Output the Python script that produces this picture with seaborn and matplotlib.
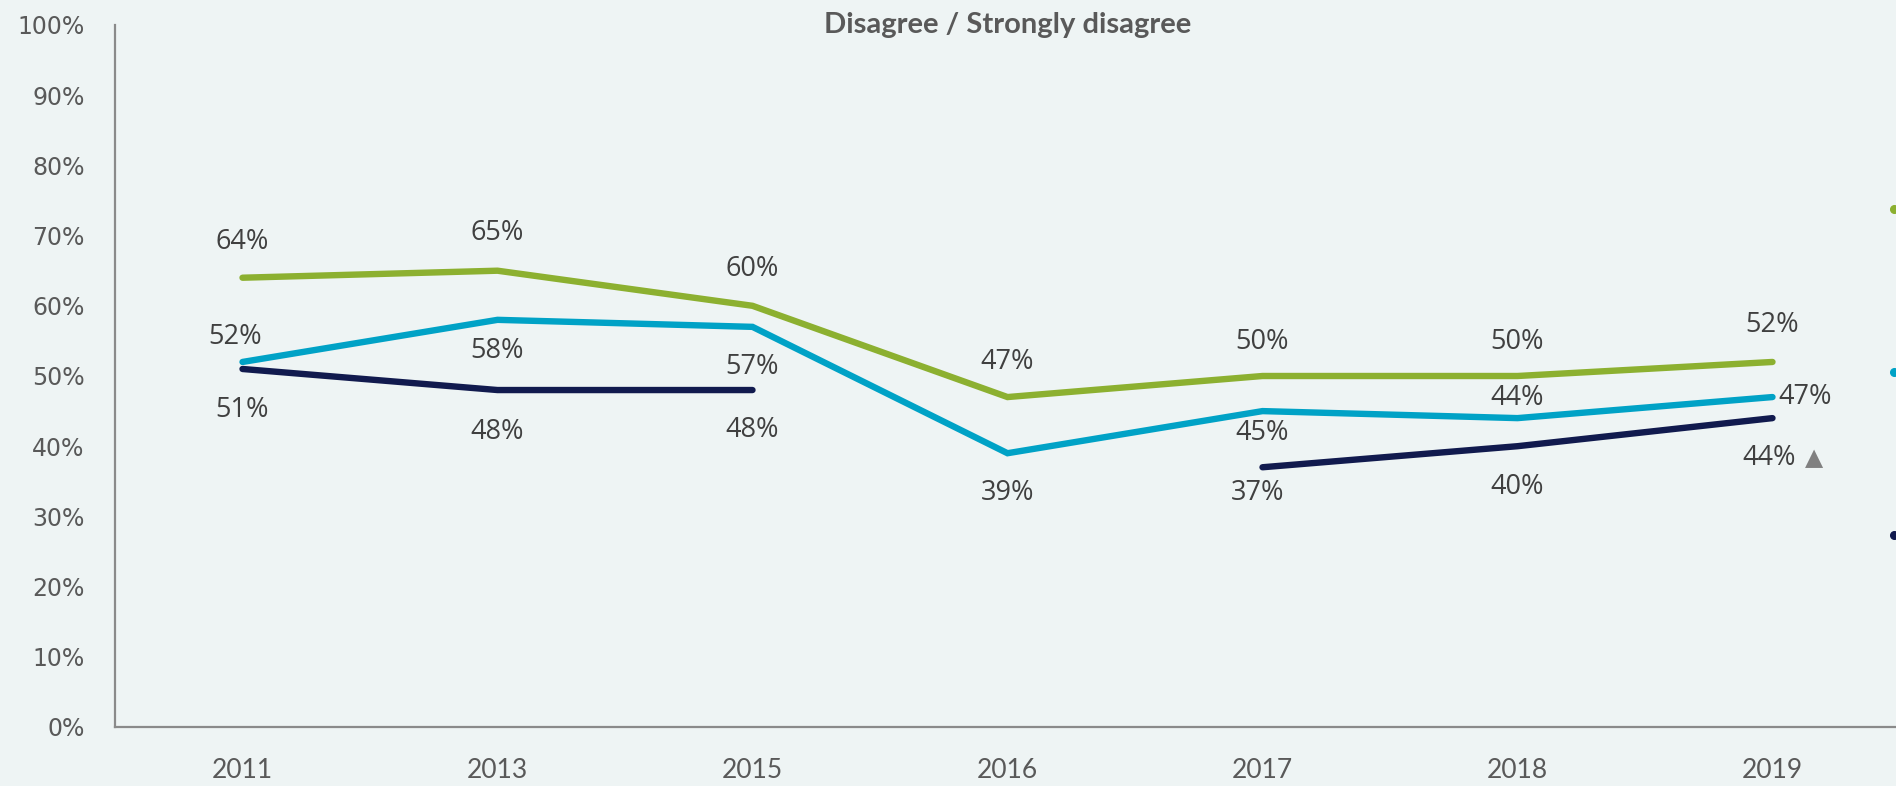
import matplotlib
matplotlib.use("Agg")
import matplotlib.pyplot as plt
from matplotlib.lines import Line2D
import numpy as np
import pandas as pd
import seaborn as sns

# ---- data -------------------------------------------------------------
years = ["2011", "2013", "2015", "2016", "2017", "2018", "2019"]
series_names = ["Series A", "Series B", "Series C"]
series_a = [64, 65, 60, 47, 50, 50, 52]
series_b = [52, 58, 57, 39, 45, 44, 47]
series_c = [51, 48, 48, np.nan, 37, 40, 44]
y_ticks = [0, 10, 20, 30, 40, 50, 60, 70, 80, 90, 100]
title_text = "Disagree / Strongly disagree"

# ---- style ------------------------------------------------------------
bg = "#EEF4F4"
colors = ["#8CB030", "#00A2C6", "#111A4E"]
label_color = "#404040"
axis_text = "#595959"

# label offsets (points) relative to each point: (dx, dy)
px = 0.72
offsets = [
    [(0, 36), (0, 38), (0, 37), (0, 35), (0, 34), (0, 34), (0, 37)],
    [(-7, 25), (0, -31), (0, -40), (0, -40), (0, -22), (0, 20), (32, 0)],
    [(0, -41), (0, -42), (0, -40), None, (-5, -26), (0, -41), (-3, -40)],
]

sns.set_theme(style="white")
plt.rcParams["font.family"] = ["DejaVu Sans"]

# long-form table; a segment id keeps the gap in series C unbridged
rows = []
for name, vals in zip(series_names, [series_a, series_b, series_c]):
    seg = 0
    for yr, v in zip(years, vals):
        if np.isnan(v):
            seg += 1
            continue
        rows.append({"year": yr, "value": v, "series": name, "segment": f"{name}-{seg}"})
df = pd.DataFrame(rows)
df["year"] = pd.Categorical(df["year"], categories=years, ordered=True)

W, H = 1896, 786
fig = plt.figure(figsize=(W / 100, H / 100), dpi=100, facecolor=bg)
ax = fig.add_axes([115 / W, 1 - 727 / H, (1900 - 115) / W, (727 - 25) / H])
ax.set_facecolor(bg)

sns.lineplot(
    data=df, x="year", y="value", hue="series", units="segment",
    estimator=None, palette=dict(zip(series_names, colors)),
    hue_order=series_names, linewidth=4.6, legend=False, ax=ax,
    solid_capstyle="round", solid_joinstyle="miter",
)

ax.set_xlim(-0.5, len(years) - 0.5)
ax.set_ylim(0, 100)
ax.set_xticks(range(len(years)))
ax.set_xticklabels(years, fontfamily="Lato", fontsize=19, color=axis_text)
ax.set_yticks(y_ticks)
ax.set_yticklabels([f"{t}%" for t in y_ticks], fontfamily="DejaVu Sans",
                   fontsize=17, color=axis_text)
ax.tick_params(axis="x", length=0, pad=22)
ax.tick_params(axis="y", length=0, pad=22)
ax.set_xlabel("")
ax.set_ylabel("")
ax.grid(False)
for side in ["top", "right"]:
    ax.spines[side].set_visible(False)
for side in ["left", "bottom"]:
    ax.spines[side].set_color("#8A8A8A")
    ax.spines[side].set_linewidth(1.6)

# data labels
for vals, offs in zip([series_a, series_b, series_c], offsets):
    for i, (v, off) in enumerate(zip(vals, offs)):
        if off is None or np.isnan(v):
            continue
        dx, dy = off
        ha = "left" if dx > 20 else "center"
        ax.annotate(f"{v:.0f}%", xy=(i, v), xytext=(dx * px if ha == "center" else 6 * px, dy * px),
                    textcoords="offset points", ha=ha, va="center",
                    fontfamily="Open Sans", fontsize=19.5, color=label_color)

# significance marker beside the last value of series C
ax.annotate("▲", xy=(len(years) - 1, series_c[-1]), xytext=(41 * px, -40 * px),
            textcoords="offset points", ha="center", va="center",
            fontfamily="DejaVu Sans", fontsize=17, color="#808080")

ax.text(0.5, 1.0, title_text, transform=ax.transAxes, ha="center", va="center",
        fontfamily="Lato", fontweight="bold", fontsize=21, color=axis_text)

# legend markers sitting on the right edge of the canvas
handles = [Line2D([], [], marker="o", linestyle="", color=c, markersize=5.5)
           for c in colors]
fig.legend(handles, [" "] * len(handles), loc="upper left",
           bbox_to_anchor=(1889 / W, 1 - 199 / H), frameon=False,
           borderpad=0, borderaxespad=0, handlelength=0.4, handletextpad=0.5,
           fontsize=18, labelspacing=5.56)

fig.savefig("out.png", dpi=100, facecolor=bg)
